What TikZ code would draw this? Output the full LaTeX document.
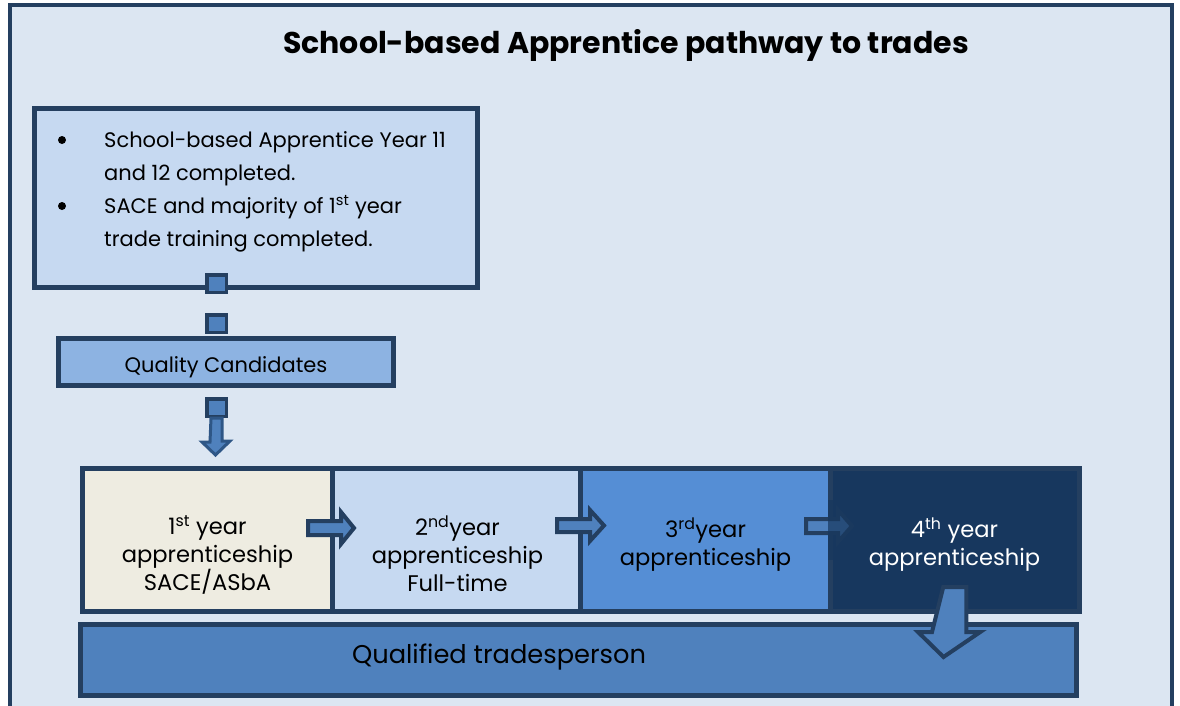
\documentclass[tikz,border=0pt]{standalone}
\usepackage{fontspec}
\setmainfont{Poppins}
\definecolor{edge}{HTML}{243F60}
\definecolor{bg}{HTML}{DCE6F2}
\definecolor{pale}{HTML}{C6D9F1}
\definecolor{qc}{HTML}{8DB3E2}
\definecolor{mid}{HTML}{4F81BD}
\definecolor{cream}{HTML}{EEECE1}
\definecolor{three}{HTML}{558ED5}
\definecolor{navy}{HTML}{17375E}
\definecolor{arrowedge}{HTML}{2E5686}
\begin{document}
\begin{tikzpicture}[x=1pt,y=-1pt,
  box/.style={draw=edge, line width=5pt, inner sep=0pt},
  handle/.style={draw=edge, line width=3.5pt, fill=mid, minimum width=19.5pt, minimum height=17.5pt, inner sep=0pt},
  arr/.style={draw=edge, line width=4pt, fill=mid, line join=miter},
  yeartext/.style={align=center, anchor=base, inner sep=0pt, font=\fontsize{22.6}{28}\selectfont},
  dot/.style={circle, fill=black, inner sep=0pt, minimum size=8pt}]
\useasboundingbox (0,0) rectangle (1180,705);
\clip (0,0) rectangle (1180,705);
\fill[white] (0,0) rectangle (1180,705);
\draw[line width=4pt, draw=edge, fill=bg] (10,5) rectangle (1172,740);
\node[anchor=base, inner sep=0pt, font=\fontsize{30}{34}\selectfont\bfseries] (title) at (626,53) {School-based Apprentice pathway to trades};
% requirements box
\node[box, fill=pale, minimum width=443pt, minimum height=179pt] (req) at (256,198) {};
\node[dot] (b1) at (62,140) {};
\node[dot] (b2) at (62,206) {};
\node[anchor=base west, align=left, inner sep=0pt, font=\fontsize{21}{33}\selectfont] (reqtext) at (104,246)
  {School-based Apprentice Year 11\\and 12 completed.\\SACE and majority of 1\textsuperscript{st} year\\trade training completed.};
\node[handle] (h1) at (216.5,283.5) {};
\node[handle] (h2) at (216.5,323.5) {};
\node[box, fill=qc, minimum width=335pt, minimum height=47pt] (qcbox) at (226,362) {};
\node[anchor=base, inner sep=0pt, font=\fontsize{21}{25}\selectfont] (qctext) at (226,372) {Quality Candidates};
\node[handle] (h3) at (216.5,407.5) {};
\draw[arr, draw=arrowedge, line width=3pt] ([xshift=-5.5pt]h3.south) -- ++(11,0) -- ++(0,23) -- ++(8,0) -- (215.5,455) -- (202,442) -- (210,442) -- cycle;
% year boxes
\node[box, fill=cream, minimum width=249.5pt, minimum height=143pt] (y1) at (207.25,540) {};
\node[box, fill=pale, minimum width=248pt, minimum height=143pt] (y2) at (456,540) {};
\node[box, fill=three, minimum width=250pt, minimum height=143pt] (y3) at (705,540) {};
\node[box, fill=navy, minimum width=249.5pt, minimum height=143pt] (y4) at (954.75,540) {};
\draw[arr] (308,521) -- (341,521) -- (341,512) -- (354,528) -- (341,544) -- (341,535) -- (308,535) -- cycle;
\draw[arr] (557,519) -- (590,519) -- (590,510) -- (604,525.5) -- (590,541) -- (590,532) -- (557,532) -- cycle;
\draw[arr] (806,519) -- (838,519) -- (838,510) -- (852,526) -- (838,542) -- (838,533) -- (806,533) -- cycle;
\begin{scope}
  \clip (828,500) rectangle (870,560);
  \fill[navy, opacity=0.7] (828,500) rectangle (870,560);
\end{scope}
% bottom box
\node[box, fill=mid, minimum width=996pt, minimum height=71pt] (qual) at (578.5,660) {};
\node[anchor=base, inner sep=0pt, font=\fontsize{25.7}{30}\selectfont] (qualtext) at (499,663) {Qualified tradesperson};
\draw[arr] ([xshift=-11.5pt]y4.south |- 0,587) -- ++(23,0) -- ++(0,45) -- ++(14,0) -- (943.5,657) -- (918,632) -- (932,632) -- cycle;
% year texts
\node[yeartext] (t1) at (207.5,590) {1\textsuperscript{st} year\\apprenticeship\\SACE/ASbA};
\node[yeartext] (t2) at (457.5,591) {2\textsuperscript{nd}year\\apprenticeship\\Full-time};
\node[yeartext] (t3) at (705.5,565) {3\textsuperscript{rd}year\\apprenticeship};
\node[yeartext, text=white] (t4) at (954.5,565) {4\textsuperscript{th} year\\apprenticeship};
\end{tikzpicture}
\end{document}
